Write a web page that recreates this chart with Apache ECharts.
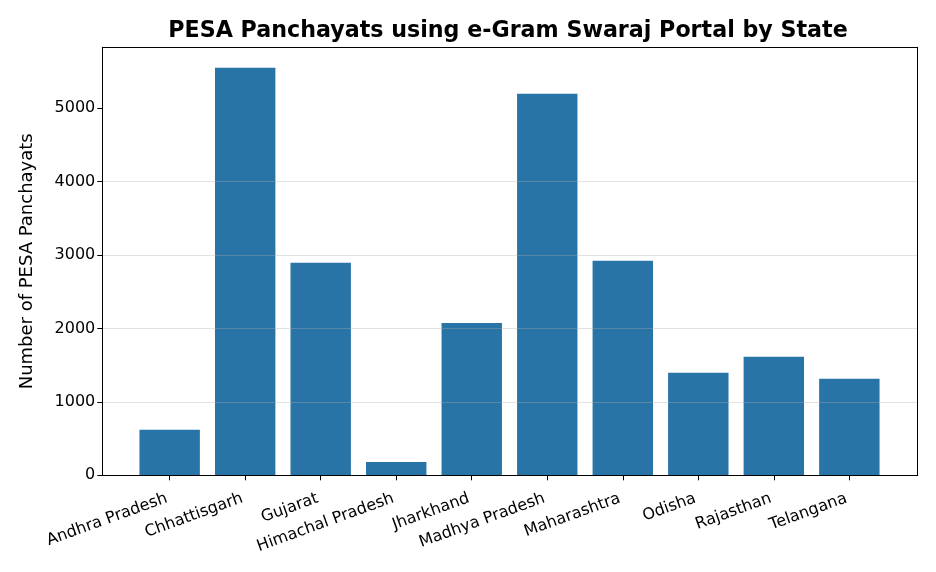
<!DOCTYPE html>
<html><head><meta charset="utf-8">
<script src="https://cdn.jsdelivr.net/npm/echarts@6/dist/echarts.min.js"></script>
<style>html,body{margin:0;padding:0;background:#fff}#c{width:936px;height:572px}</style>
</head><body><div id="c"></div>
<script>
const states = ['Andhra Pradesh','Chhattisgarh','Gujarat','Himachal Pradesh','Jharkhand','Madhya Pradesh','Maharashtra','Odisha','Rajasthan','Telangana'];
const panchayats = [620, 5550, 2895, 180, 2075, 5195, 2920, 1395, 1615, 1315];
const yTicks = [0, 1000, 2000, 3000, 4000, 5000];
const yMax = 5828;

const F = 'DejaVu Sans';
const chart = echarts.init(document.getElementById('c'), null, {renderer:'canvas'});
chart.setOption({
  animation:false,
  backgroundColor:'#fff',
  title:{text:'PESA Panchayats using e-Gram Swaraj Portal by State', left:503, top:15, textAlign:'center',
    textStyle:{fontFamily:F, fontWeight:'bold', fontSize:22.2, color:'#000'}},
  grid:[
    {left:102.3, right:18.3, top:47.3, bottom:96.7},
    {left:131.9, right:48.9, top:47.3, bottom:96.7}
  ],
  xAxis:[
    {gridIndex:0, type:'category', data:[''], position:'bottom', axisLine:{show:true, onZero:false, lineStyle:{color:'#000', width:1}}, axisTick:{show:false}, axisLabel:{show:false}, splitLine:{show:false}, z:6},
    {gridIndex:0, type:'category', data:[''], position:'top', axisLine:{show:true, onZero:false, lineStyle:{color:'#000', width:1}}, axisTick:{show:false}, axisLabel:{show:false}, splitLine:{show:false}, z:6},
    {gridIndex:1, type:'category', data:states, axisLine:{show:false, onZero:false},
      axisTick:{show:true, alignWithLabel:true, length:5, lineStyle:{color:'#000', width:1}},
      axisLabel:{rotate:20, align:'right', verticalAlign:'top', padding:[0,6,0,0], fontFamily:F, fontSize:16, color:'#000', margin:13, interval:0}, z:6}
  ],
  yAxis:[
    {gridIndex:0, type:'value', min:0, max:yMax, position:'left',
      name:'Number of PESA Panchayats', nameLocation:'middle', nameGap:66, nameRotate:90,
      nameTextStyle:{fontFamily:F, fontSize:18, color:'#000'},
      axisLine:{show:true, lineStyle:{color:'#000', width:1}},
      axisTick:{show:true, length:5, lineStyle:{color:'#000', width:1}, customValues:yTicks},
      axisLabel:{fontFamily:F, fontSize:16, color:'#000', margin:7, customValues:yTicks, formatter:v=>String(v)},
      splitLine:{show:true, showMinLine:false, showMaxLine:false, lineStyle:{color:'rgba(176,176,176,0.35)', width:1.2}},
      z:5},
    {gridIndex:0, type:'value', min:0, max:yMax, position:'right',
      axisLine:{show:true, lineStyle:{color:'#000', width:1}}, axisTick:{show:false}, axisLabel:{show:false}, splitLine:{show:false}, z:6},
    {gridIndex:1, type:'value', min:0, max:yMax, show:false}
  ],
  series:[{
    type:'bar', xAxisIndex:2, yAxisIndex:2, data:panchayats, barWidth:'80%',
    itemStyle:{color:'#2874A6'}, z:2
  }]
});
</script></body></html>
